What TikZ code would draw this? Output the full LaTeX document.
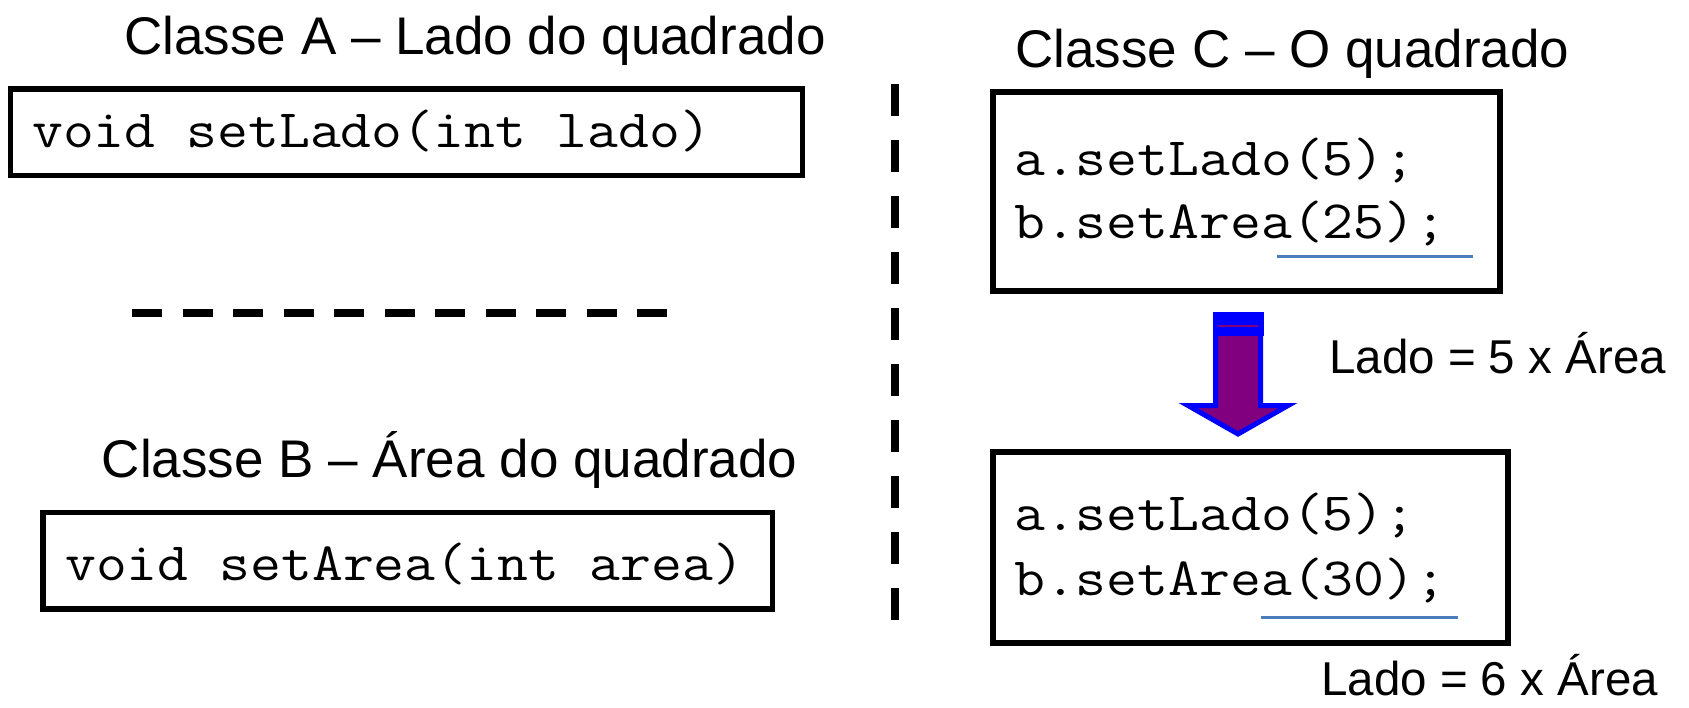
\documentclass[tikz,border=0pt]{standalone}
\usepackage{fontspec}
\setmainfont{Liberation Sans}
\usepackage{graphicx}
\definecolor{ulblue}{HTML}{4A7EBB}
\definecolor{arrowpurple}{HTML}{800080}
\definecolor{arrowblue}{HTML}{0000FF}
\newcommand\mycode[1]{\scalebox{1.11}[1]{\ttfamily\fontsize{54}{60}\selectfont #1}}
\begin{document}
\begin{tikzpicture}[x=1pt,y=-1pt,
  title/.style={font=\fontsize{53}{60}\selectfont, inner sep=0pt, anchor=base},
  note/.style={font=\fontsize{47.5}{55}\selectfont, inner sep=0pt, anchor=base west},
  code/.style={inner sep=0pt, anchor=base west},
  box/.style={draw, line width=5.5pt, inner sep=0pt, rectangle},
  ul/.style={draw=ulblue, line width=3.5pt},
  hsep/.style={line width=8pt, dash pattern=on 30pt off 20.5pt},
  vsep/.style={line width=7.5pt, dash pattern=on 32pt off 24pt},
  blockarrow/.style={fill=arrowpurple, draw=arrowblue, line width=5pt, miter limit=10}
]
\fill[white] (0,0) rectangle (1689,707);
\useasboundingbox (0,0) rectangle (1689,707);

% left column
\node[title] (tA) at (475,54) {Classe A – Lado do quadrado};
\node[box, minimum width=792pt, minimum height=86.5pt] (bA) at (406.5,132.25) {};
\node[code] (cA) at (32,147) {\mycode{void setLado(int lado)}};

\coordinate (hs1) at (132,313);
\coordinate (hs2) at (667,313);
\draw[hsep] (hs1) -- (hs2);

\node[title] (tB) at (449.6,477) {Classe B – Área do quadrado};
\node[box, minimum width=729.5pt, minimum height=96.5pt] (bB) at (407.75,560.75) {};
\node[code] (cB) at (65,580) {\mycode{void setArea(int area)}};

% separator
\coordinate (vs1) at (895,84);
\coordinate (vs2) at (895,620);
\draw[vsep] (vs1) -- (vs2);

% right column
\node[title] (tC) at (1292.4,67) {Classe C – O quadrado};
\node[box, minimum width=507pt, minimum height=199pt] (bC1) at (1246.5,191.5) {};
\node[code] (c11) at (1014,175) {\mycode{a.setLado(5);}};
\node[code] (c12) at (1014,238) {\mycode{b.setArea(25);}};
\coordinate (u1a) at (1276.6,256.5);
\coordinate (u1b) at (1472.5,256.5);
\draw[ul] (u1a) -- (u1b);

% block arrow
\draw[blockarrow] (1215.5,314.5) -- (1260.5,314.5) -- (1260.5,405.5) -- (1288,405.5)
  -- (1238,434) -- (1188,405.5) -- (1215.5,405.5) -- cycle;
\fill[arrowblue] (1213,312) rectangle (1263.5,336);
\draw[arrowpurple, line width=2pt] (1218,325.5) -- (1258,325.5);

\node[note] (n5) at (1329,373) {Lado = 5 x Área};

\node[box, minimum width=515pt, minimum height=191pt] (bC2) at (1250.5,547.5) {};
\node[code] (c21) at (1014,530) {\mycode{a.setLado(5);}};
\node[code] (c22) at (1014,595) {\mycode{b.setArea(30);}};
\coordinate (u2a) at (1261,617.5);
\coordinate (u2b) at (1457.6,617.5);
\draw[ul] (u2a) -- (u2b);

\node[note] (n6) at (1321,695) {Lado = 6 x Área};
\end{tikzpicture}
\end{document}
